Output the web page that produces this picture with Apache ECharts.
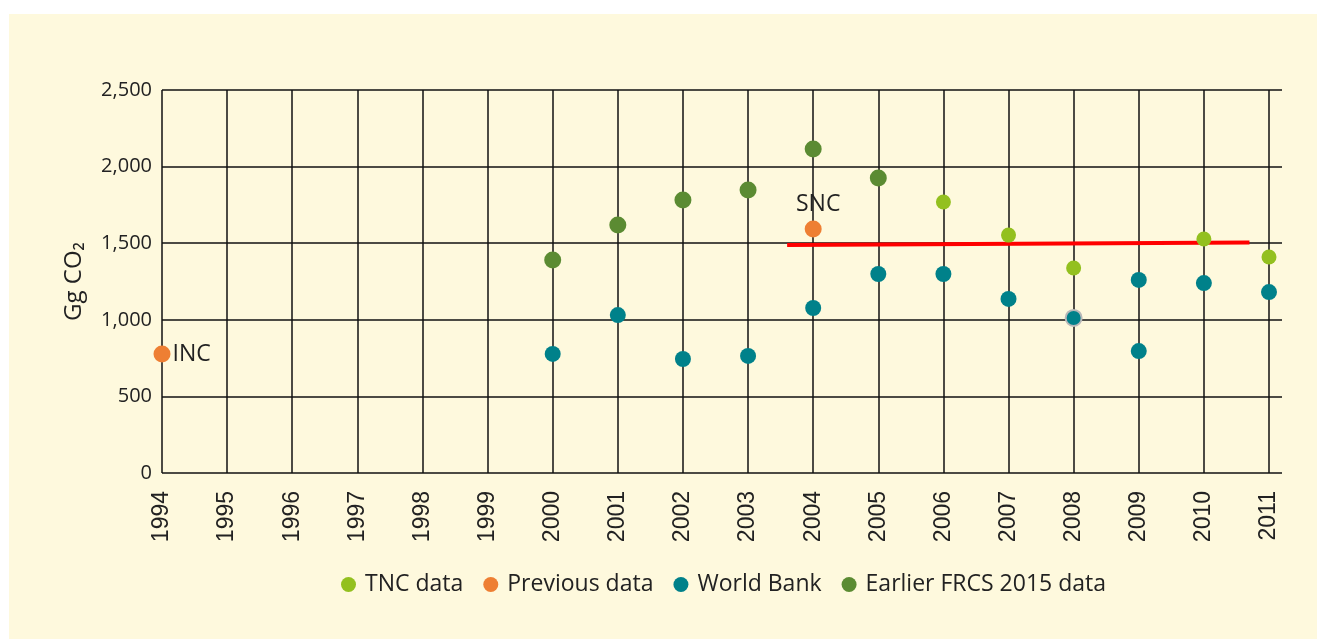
<!DOCTYPE html>
<html>
<head>
<meta charset="utf-8">
<script src="https://cdn.jsdelivr.net/npm/echarts@6/dist/echarts.min.js"></script>
<style>
  body { margin: 0; background: #ffffff; }
  #chart { position: absolute; left: 9px; top: 14px; width: 1308px; height: 625px; background: #fef9dd; }
</style>
</head>
<body>
<div id="chart"></div>
<script>
  // years on the x axis
  const years = ['1994','1995','1996','1997','1998','1999','2000','2001','2002','2003',
                 '2004','2005','2006','2007','2008','2009','2010','2011'];
  const yTicks = [0, 500, 1000, 1500, 2000, 2500];

  const tncData = [['2006', 1769], ['2007', 1553], ['2008', 1338], ['2010', 1527], ['2011', 1410]];
  const previousData = [['1994', 777, 'INC'], ['2004', 1593, 'SNC']];
  const worldBank = [['2000', 777], ['2001', 1031], ['2002', 744], ['2003', 764], ['2004', 1077],
                     ['2005', 1299], ['2006', 1299], ['2007', 1136], ['2008', 1012],
                     ['2009', 1260], ['2009', 796], ['2010', 1240], ['2011', 1181]];
  const earlierFrcs = [['2000', 1390], ['2001', 1619], ['2002', 1782], ['2003', 1847],
                       ['2004', 2115], ['2005', 1926]];
  // red trend line ends (fractional year, value)
  const trendLine = [[2003.6, 1488], [2010.7, 1505]];

  const font = '"Open Sans", Lato, sans-serif';
  const chart = echarts.init(document.getElementById('chart'));

  chart.setOption({
    animation: false,
    textStyle: { fontFamily: font, color: '#222' },
    legend: {
      left: 327, top: 554,
      icon: 'circle', itemWidth: 15, itemHeight: 15, itemGap: 20,
      textStyle: { fontSize: 23, color: '#222', fontFamily: font, padding: [0, 0, 0, 4] },
      data: ['TNC data', 'Previous data', 'World Bank', 'Earlier FRCS 2015 data']
    },
    grid: [
      { left: 153, right: 48, top: 76, bottom: 166 },
      { left: 153, right: 35, top: 76, bottom: 166 }
    ],
    xAxis: [
      {
        gridIndex: 0, type: 'category', data: years, boundaryGap: false,
        axisLine: { show: false },
        axisTick: { show: false },
        splitLine: { show: true, lineStyle: { color: '#111', width: 1.5 } },
        axisLabel: { rotate: 90, margin: 18, fontSize: 23, color: '#222', fontFamily: '"Liberation Sans", Arial, sans-serif', interval: 0 }
      },
      { gridIndex: 0, type: 'value', min: 1994, max: 2011, show: false },
      { gridIndex: 1, type: 'value', min: 0, max: 1, show: false }
    ],
    yAxis: [
      {
        gridIndex: 0, type: 'value', min: yTicks[0], max: yTicks[yTicks.length - 1], interval: 500,
        name: 'Gg CO₂', nameLocation: 'middle', nameGap: 76,
        nameTextStyle: { fontSize: 24, color: '#222', fontFamily: font },
        axisLine: { show: false }, axisTick: { show: false }, splitLine: { show: false },
        axisLabel: {
          margin: 10, fontSize: 20, color: '#222', fontFamily: font,
          formatter: v => v.toLocaleString('en-US')
        }
      },
      {
        gridIndex: 1, type: 'value', min: 0, max: 2500, interval: 500,
        axisLine: { show: false }, axisTick: { show: false }, axisLabel: { show: false },
        splitLine: { show: true, lineStyle: { color: '#111', width: 1.5 } }
      }
    ],
    series: [
      {
        name: 'trend', type: 'line', xAxisIndex: 1, yAxisIndex: 0,
        data: trendLine, symbol: 'none', z: 3,
        lineStyle: { color: '#ff0000', width: 4 }
      },
      {
        name: 'TNC data', type: 'scatter', data: tncData, symbolSize: 15, z: 5,
        itemStyle: { color: '#93c01f', opacity: 1 }
      },
      {
        name: 'Previous data', type: 'scatter', symbolSize: 17, z: 5,
        data: previousData.map(d => ({
          value: [d[0], d[1]],
          label: d[2] === 'INC'
            ? { show: true, formatter: d[2], fontSize: 23, color: '#222', fontFamily: font, position: 'right', distance: 2 }
            : { show: true, formatter: d[2], fontSize: 23, color: '#222', fontFamily: font, position: 'top', distance: 4, offset: [5, 0] }
        })),
        itemStyle: { color: '#ee7f33', opacity: 1 }
      },
      {
        name: 'World Bank', type: 'scatter', symbolSize: 16, z: 5,
        data: worldBank.map(d => d[0] === '2008'
          ? { value: d, itemStyle: { borderColor: '#b8b8b8', borderWidth: 2 } }
          : d),
        itemStyle: { color: '#00818a', opacity: 1 }
      },
      {
        name: 'Earlier FRCS 2015 data', type: 'scatter', data: earlierFrcs, symbolSize: 17, z: 5,
        itemStyle: { color: '#5b8b32', opacity: 1 }
      }
    ]
  });
</script>
</body>
</html>
